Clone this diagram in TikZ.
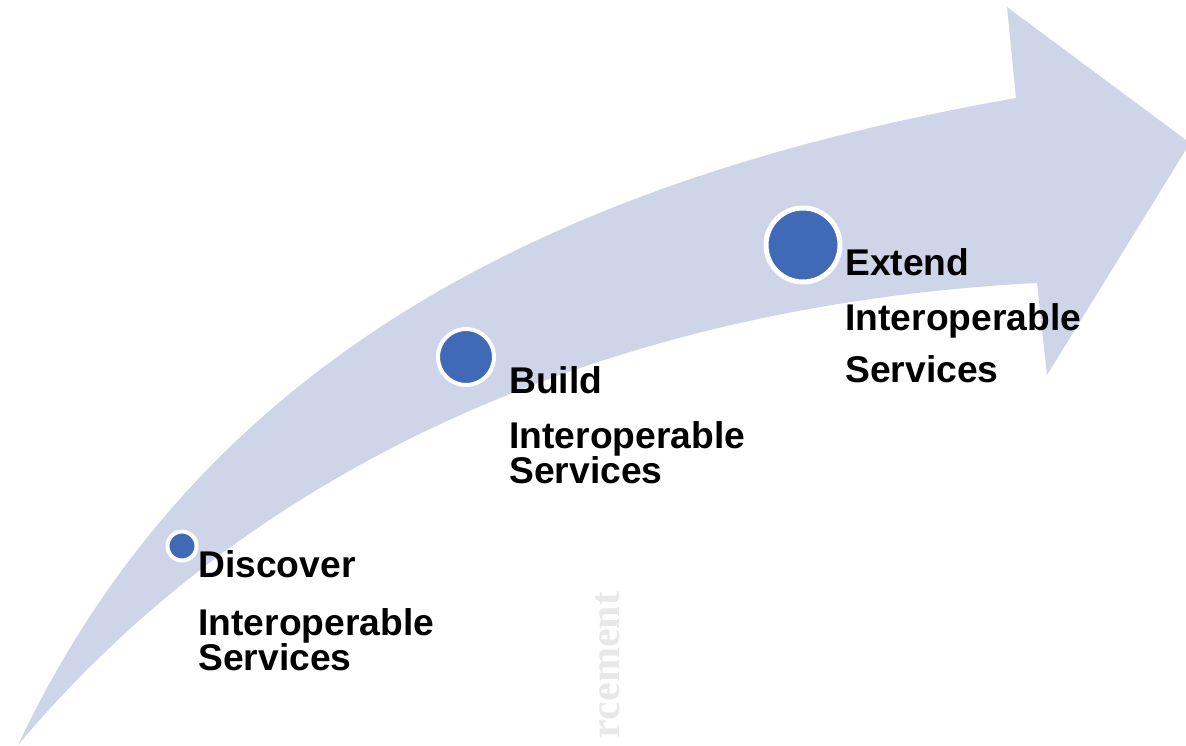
\documentclass[tikz,border=0pt]{standalone}
\usepackage{fontspec}
\setmainfont{Liberation Sans}
\newfontfamily\wmfont{Liberation Serif}
\definecolor{shaftcol}{RGB}{207,213,232}
\definecolor{dotblue}{RGB}{65,106,182}
\definecolor{wmgray}{RGB}{232,232,232}
\begin{document}
\begin{tikzpicture}[x=0.5pt,y=-0.5pt,
  dot/.style={circle,fill=dotblue,draw=white,inner sep=0pt},
  lbl/.style={anchor=base west,inner sep=0pt,font=\fontsize{18.6pt}{18.6pt}\selectfont\bfseries}]
\useasboundingbox (0,0) rectangle (1186,745);
% curved arrow
\coordinate (tail) at (18,745);
\coordinate (ui) at (1016,98);
\coordinate (barbt) at (1007,7);
\coordinate (tip) at (1190,143);
\coordinate (barbb) at (1047,375);
\coordinate (li) at (1037,283);
\fill[shaftcol] (tail) .. controls (200,360) and (550,180) .. (ui)
  -- (barbt) -- (tip) -- (barbb) -- (li)
  .. controls (700,300) and (298,412) .. (tail) -- cycle;
% watermark fragment
\node[rotate=90,text=wmgray,inner sep=0pt,font=\wmfont\bfseries\fontsize{21pt}{21pt}\selectfont] (wm) at (608,665) {rcement};
% dots
\node[dot,minimum size=37pt,line width=2.5pt] (d3) at (803,245) {};
\node[dot,minimum size=28pt,line width=2pt] (d2) at (466,357) {};
\node[dot,minimum size=14.5pt,line width=2pt] (d1) at (182,546) {};
% labels
\node[lbl] (t1a) at (198,577) {Discover};
\node[lbl] (t1b) at (198,635) {Interoperable};
\node[lbl] (t1c) at (198,670) {Services};
\node[lbl] (t2a) at (509,393) {Build};
\node[lbl] (t2b) at (509,448) {Interoperable};
\node[lbl] (t2c) at (509,483) {Services};
\node[lbl] (t3a) at (845,275) {Extend};
\node[lbl] (t3b) at (845,330) {Interoperable};
\node[lbl] (t3c) at (845,382) {Services};
\end{tikzpicture}
\end{document}
